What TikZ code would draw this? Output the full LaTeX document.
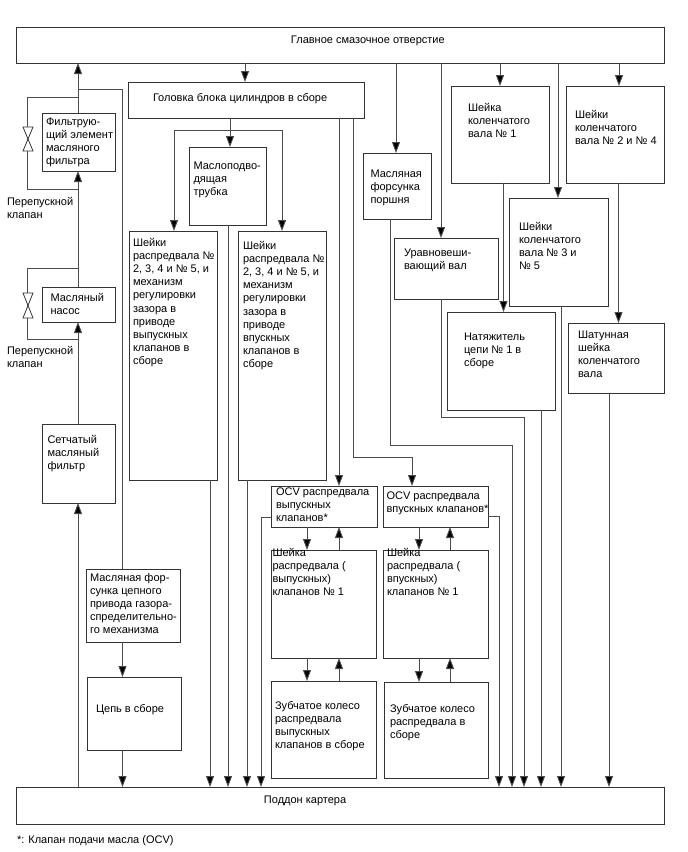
\documentclass[tikz,border=0pt]{standalone}
\usepackage{fontspec}
\setmainfont{Liberation Sans}
\usetikzlibrary{arrows.meta}
\newcommand\fsz{\fontsize{11}{13.2}\selectfont}
\tikzset{
  boxst/.style={draw=black!80,line width=1pt,fill=white,inner sep=0pt,outer sep=0pt,anchor=north west,font=\fsz},
  plain/.style={inner sep=0pt,outer sep=0pt,anchor=base west,font=\fsz},
  lnk/.style={draw=black!70,line width=0.9pt},
  arr/.style={lnk,-{Triangle[width=8pt,length=11pt,fill=black]}},
  valvest/.style={draw=black!80,line width=0.8pt,fill=white}
}
% name, x0, y0, x1, y1, text x, first baseline y, lines
\newcommand\bx[8]{%
  \pgfmathsetlengthmacro\bw{#4-#2}%
  \pgfmathsetlengthmacro\bh{#5-#3}%
  \pgfmathsetlengthmacro\tdx{#6-#2}%
  \pgfmathsetlengthmacro\tdy{#7-#3}%
  \node[boxst] (#1) at (#2,#3) {\vbox to \bh{\hbox to \bw{\hskip\tdx\raisebox{-\tdy}[0pt][0pt]{\begin{tabular}[t]{@{}l@{}}#8\end{tabular}}\hss}\vss}};%
}
\begin{document}
\begin{tikzpicture}[x=1pt,y=-1pt]
\useasboundingbox (0,0) rectangle (688,852);
\bx{top}{16}{27}{664}{63}{291}{43.5}{Главное смазочное отверстие}
\bx{pan}{16}{787}{664}{824}{264}{803}{Поддон картера}
\bx{head}{128}{82}{364}{118}{153}{101}{Головка блока цилиндров в сборе}
\bx{filt}{42}{113}{115}{171}{46}{125}{Фильтрую-\\щий элемент\\масляного\\фильтра}
\bx{pump}{42}{287}{115}{322}{50.5}{301}{Масляный\\насос}
\bx{strn}{42}{424}{115}{503}{47.5}{443}{Сетчатый\\масляный\\фильтр}
\bx{cinj}{86}{569}{180}{642}{90}{581}{Масляная фор-\\сунка цепного\\привода газора-\\спределительно-\\го механизма}
\bx{chain}{87}{677}{181}{750}{96}{712}{Цепь в сборе}
\bx{pipe}{189}{147}{266}{225}{193.5}{169}{Маслоподво-\\дящая\\трубка}
\bx{camex}{129}{231}{217}{480}{133}{246}{Шейки\\распредвала №\\2, 3, 4 и № 5, и\\механизм\\регулировки\\зазора в\\приводе\\выпускных\\клапанов в\\сборе}
\bx{camin}{238}{231}{326}{480}{243}{249}{Шейки\\распредвала №\\2, 3, 4 и № 5, и\\механизм\\регулировки\\зазора в\\приводе\\впускных\\клапанов в\\сборе}
\bx{ocvex}{271}{486}{377}{527}{276}{495}{OCV распредвала\\выпускных\\клапанов*}
\bx{ocvin}{383}{486}{488}{527}{386.5}{499}{OCV распредвала\\впускных клапанов*}
\bx{jex}{271}{550}{376}{658}{272.5}{556}{Шейка\\распредвала (\\выпускных)\\клапанов № 1}
\bx{jin}{383}{550}{488}{658}{387}{556}{Шейка\\распредвала (\\впускных)\\клапанов № 1}
\bx{gex}{271}{681}{376}{778}{275}{709}{Зубчатое колесо\\распредвала\\выпускных\\клапанов в сборе}
\bx{gin}{384}{682}{488}{778}{390}{712}{Зубчатое колесо\\распредвала в\\сборе}
\bx{pist}{363}{153}{431}{219}{370.5}{177}{Масляная\\форсунка\\поршня}
\bx{bal}{394}{238}{498}{299}{404}{256}{Уравновеши-\\вающий вал}
\bx{cj1}{451}{86}{549}{183}{468}{111}{Шейка\\коленчатого\\вала № 1}
\bx{cj24}{566}{86}{664}{183}{575}{118}{Шейки\\коленчатого\\вала № 2 и № 4}
\bx{cj35}{509}{198}{608}{306}{519}{230}{Шейки\\коленчатого\\вала № 3 и\\№ 5}
\bx{tens}{447}{312}{555}{410}{464}{340}{Натяжитель\\цепи № 1 в\\сборе}
\bx{rod}{568}{323}{664}{393}{578}{338}{Шатунная\\шейка\\коленчатого\\вала}
% labels
\node[plain] (bp1) at (7,205) {\begin{tabular}[t]{@{}l@{}}Перепускной\\клапан\end{tabular}};
\node[plain] (bp2) at (7,354) {\begin{tabular}[t]{@{}l@{}}Перепускной\\клапан\end{tabular}};
\node[plain] (fnote) at (17,843) {*: Клапан подачи масла (OCV)};
% left column
\draw[arr] (78,0 |- filt.north) -- (78,0 |- top.south);
\draw[arr] (78,0 |- pump.north) -- (78,0 |- filt.south);
\draw[arr] (78,0 |- strn.north) -- (78,0 |- pump.south);
\draw[arr] (78,0 |- pan.north) -- (78,0 |- strn.south);
\draw[lnk] (78,89) -- (122.5,89) -- (122.5,0 |- cinj.north);
\draw[arr] (122.5,0 |- cinj.south) -- (122.5,0 |- chain.north);
\draw[arr] (122.5,0 |- chain.south) -- (122.5,0 |- pan.north);
% bypass valves
\draw[lnk] (78,97) -- (27.7,97) -- (27.7,189) -- (78,189);
\draw[lnk] (78,268) -- (27.7,268) -- (27.7,339) -- (78,339);
\draw[valvest] (23,127) -- (33,127) -- (23,151) -- (33,151) -- cycle;
\draw[valvest] (23,293) -- (33,293) -- (23,318) -- (33,318) -- cycle;
% head block
\draw[arr] (245,0 |- top.south) -- (245,0 |- head.north);
\draw[arr] (230,0 |- head.south) -- (230,0 |- pipe.north);
\draw[arr] (230,130) -- (174,130) -- (174,0 |- camex.north);
\draw[arr] (230,130) -- (282,130) -- (282,0 |- camin.north);
\draw[arr] (339,0 |- head.south) -- (339,0 |- ocvex.north);
\draw[arr] (353,0 |- head.south) -- (353,457) -- (412,457) -- (412,0 |- ocvin.north);
\draw[arr] (210,0 |- camex.south) -- (210,0 |- pan.north);
\draw[arr] (228,0 |- pipe.south) -- (228,0 |- pan.north);
\draw[arr] (247,0 |- camin.south) -- (247,0 |- pan.north);
% OCV groups
\draw[arr] (ocvex.west |- 0,517) -- (261,517) -- (261,0 |- pan.north);
\draw[arr] (ocvin.east |- 0,516) -- (499,516) -- (499,0 |- pan.north);
\draw[arr] (307,0 |- ocvex.south) -- (307,0 |- jex.north);
\draw[arr] (339,0 |- jex.north) -- (339,0 |- ocvex.south);
\draw[arr] (307,0 |- jex.south) -- (307,0 |- gex.north);
\draw[arr] (339,0 |- gex.north) -- (339,0 |- jex.south);
\draw[arr] (419,0 |- ocvin.south) -- (419,0 |- jin.north);
\draw[arr] (450,0 |- jin.north) -- (450,0 |- ocvin.south);
\draw[arr] (419,0 |- jin.south) -- (419,0 |- gin.north);
\draw[arr] (450,0 |- gin.north) -- (450,0 |- jin.south);
% right part
\draw[arr] (396,0 |- top.south) -- (396,0 |- pist.north);
\draw[arr] (441,0 |- top.south) -- (441,0 |- bal.north);
\draw[arr] (500,0 |- top.south) -- (500,0 |- cj1.north);
\draw[arr] (558,0 |- top.south) -- (558,0 |- cj35.north);
\draw[arr] (619,0 |- top.south) -- (619,0 |- cj24.north);
\draw[arr] (390,0 |- pist.south) -- (390,445) -- (512,445) -- (512,0 |- pan.north);
\draw[arr] (441,0 |- bal.south) -- (441,417) -- (524,417) -- (524,0 |- pan.north);
\draw[arr] (503.5,0 |- cj1.south) -- (503.5,0 |- tens.north);
\draw[arr] (541,0 |- tens.south) -- (541,0 |- pan.north);
\draw[arr] (561,0 |- cj35.south) -- (561,0 |- pan.north);
\draw[arr] (618.5,0 |- cj24.south) -- (618.5,0 |- rod.north);
\draw[arr] (609,0 |- rod.south) -- (609,0 |- pan.north);
\end{tikzpicture}
\end{document}
